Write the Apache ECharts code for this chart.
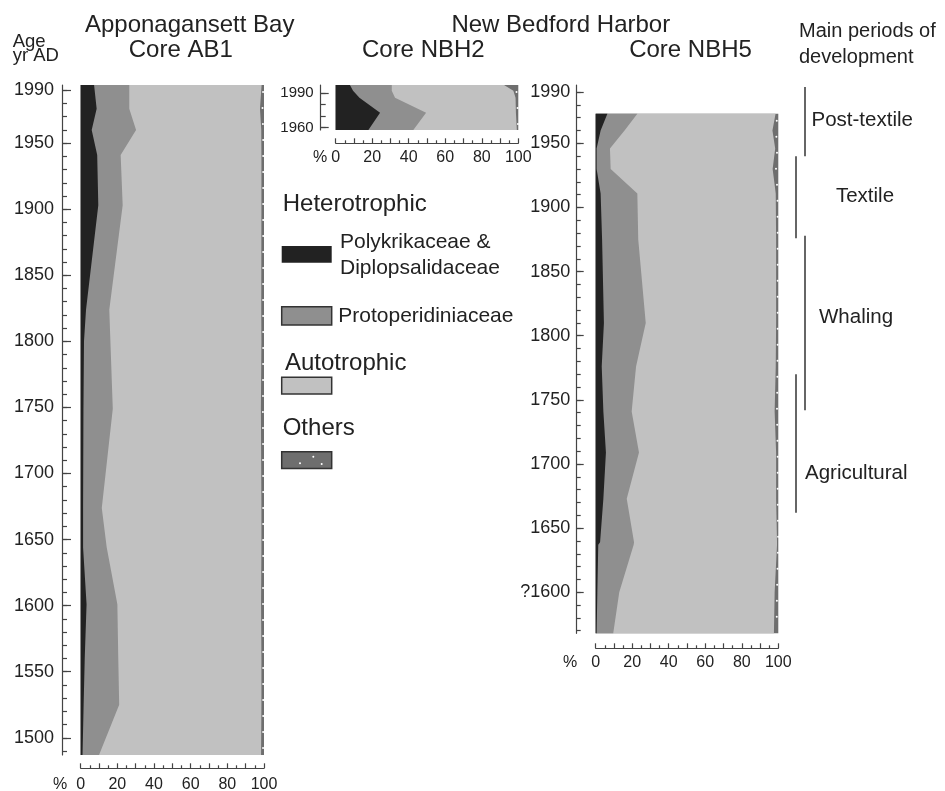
<!DOCTYPE html>
<html>
<head>
<meta charset="utf-8">
<script src="https://cdn.jsdelivr.net/npm/echarts@6/dist/echarts.min.js"></script>
<style>
  html, body { margin: 0; padding: 0; background: #fff; }
  #chart { width: 945px; height: 791px; }
</style>
</head>
<body>
<div id="chart"></div>
<script>
// ---- Dinoflagellate cyst assemblages (% of total) by age, yr AD ----
// Apponagansett Bay, core AB1
const ab1Years  = [1994, 1976, 1960, 1941, 1903, 1824, 1800, 1749, 1674, 1644, 1601, 1560, 1525, 1487];
const ab1Poly   = [7.3, 8.7, 6.0, 9.0, 9.6, 2.9, 1.8, 1.5, 1.3, 1.3, 3.2, 2.2, 1.6, 1.0];
const ab1Proto  = [19.2, 17.8, 24.2, 12.8, 13.3, 12.7, 14.4, 16.0, 10.2, 12.9, 16.8, 18.3, 19.4, 9.0];
const ab1Auto   = [72.2, 71.3, 68.3, 76.8, 75.7, 82.9, 82.4, 80.8, 87.1, 84.4, 78.4, 78.1, 77.6, 88.4];
const ab1Others = [1.3, 2.2, 1.5, 1.4, 1.4, 1.5, 1.4, 1.7, 1.4, 1.4, 1.6, 1.4, 1.4, 1.6];

// New Bedford Harbor, core NBH2
const nbh2Years  = [1997, 1992, 1986, 1973, 1958];
const nbh2Poly   = [7.8, 9.5, 13.0, 24.3, 17.9];
const nbh2Proto  = [22.9, 21.2, 19.5, 25.2, 24.6];
const nbh2Auto   = [61.5, 66.6, 66.0, 49.2, 56.7];
const nbh2Others = [7.8, 2.7, 1.5, 1.3, 0.8];

// New Bedford Harbor, core NBH5
const nbh5Years  = [1973, 1960, 1946, 1930, 1911, 1875, 1810, 1776, 1741, 1709, 1673, 1639, 1637, 1600, 1568];
const nbh5Poly   = [6.4, 2.7, 0.5, 0.5, 2.7, 3.5, 4.5, 3.3, 4.2, 5.6, 4.2, 2.4, 1.4, 0.9, 0.5];
const nbh5Proto  = [16.4, 13.1, 7.3, 7.7, 20.1, 19.8, 22.9, 18.8, 15.5, 18.1, 12.8, 18.6, 19.4, 12.0, 9.1];
const nbh5Auto   = [75.7, 81.0, 90.5, 88.7, 75.8, 75.5, 71.4, 76.5, 78.3, 75.1, 81.8, 78.3, 78.5, 85.1, 88.0];
const nbh5Others = [1.5, 3.2, 1.7, 3.1, 1.4, 1.2, 1.2, 1.4, 2.0, 1.2, 1.2, 0.7, 0.7, 2.0, 2.4];

// Axis tick labels
const ab1AgeLabels  = [1500, 1550, 1600, 1650, 1700, 1750, 1800, 1850, 1900, 1950, 1990];
const nbh2AgeLabels = [1960, 1990];
const nbh5AgeLabels = [1600, 1650, 1700, 1750, 1800, 1850, 1900, 1950, 1990];
const pctLabels     = [0, 20, 40, 60, 80, 100];

// Main periods of development (yr AD)
const periodNames    = ['Post-textile', 'Textile', 'Whaling', 'Agricultural'];
const periodStart    = [1940, 1876, 1742, 1662];
const periodEnd      = [1994, 1940, 1878, 1770];
const periodLabelAge = [1968, 1909, 1814, 1693];

// ---- styling ----
const FONT = "'Liberation Sans', Arial, Helvetica, sans-serif";
const INK = '#222';
const AXIS = '#444';
const FILLS = ['#222222', '#8f8f8f', '#c1c1c1', '#6e6e6e'];

function tickRange(from, to, step) {
  const out = [];
  for (let v = from; v <= to; v += step) out.push(v);
  return out;
}

// Two overlapping y axes per panel: one carries the line + 10-year ticks,
// the other the longer labelled ticks.
function ageAxes(gridIndex, min, max, labels, minor, o) {
  return [
    {
      gridIndex, type: 'value', min, max, position: 'left', offset: o.offset,
      axisLine: { show: true, onZero: false, lineStyle: { color: AXIS, width: 1.2 } },
      axisTick: { show: true, inside: true, length: o.minorLen, customValues: minor,
                  lineStyle: { color: AXIS, width: 1.2 } },
      axisLabel: { show: false },
      splitLine: { show: false }
    },
    {
      gridIndex, type: 'value', min, max, position: 'left', offset: o.offset,
      axisLine: { show: false, onZero: false },
      axisTick: { show: true, inside: true, length: o.majorLen, customValues: labels,
                  lineStyle: { color: AXIS, width: 1.2 } },
      axisLabel: { show: true, customValues: labels, margin: o.margin, fontSize: o.fontSize,
                   color: INK, fontFamily: FONT, formatter: o.formatter || (v => String(v)) },
      splitLine: { show: false }
    }
  ];
}

function pctAxis(gridIndex, offset, margin) {
  return {
    gridIndex, type: 'value', min: 0, max: 100, interval: 10, position: 'bottom', offset,
    axisLine: { show: true, onZero: false, lineStyle: { color: AXIS, width: 1.2 } },
    axisTick: { show: true, inside: true, length: 5, lineStyle: { color: AXIS, width: 1.2 } },
    minorTick: { show: true, splitNumber: 2, length: 3, lineStyle: { color: AXIS, width: 1.2 } },
    axisLabel: { customValues: pctLabels, margin, fontSize: 16, color: INK, fontFamily: FONT },
    splitLine: { show: false },
    minorSplitLine: { show: false }
  };
}

// Stacked percentage bands of one core, drawn as polygons from 0 to each
// cumulative boundary (widest first so the narrower ones sit on top).
function coreSeries(gridIndex, years, groups) {
  const upper = [];
  let run = years.map(() => 0);
  groups.forEach(g => {
    run = run.map((v, i) => v + g[i]);
    upper.push(run.slice());
  });
  const series = [];
  for (let k = groups.length - 1; k >= 0; k--) {
    const hi = upper[k];
    const isOthers = k === groups.length - 1;
    series.push({
      type: 'custom',
      name: 'band' + gridIndex + '_' + k,
      xAxisIndex: gridIndex,
      yAxisIndex: gridIndex * 2,
      silent: true,
      animation: false,
      data: years.map((y, i) => [hi[i], y]),
      renderItem(params, api) {
        if (params.dataIndex !== 0) return null;
        const n = years.length;
        const pts = [api.coord([0, years[0]]), api.coord([0, years[n - 1]])];
        for (let i = n - 1; i >= 0; i--) pts.push(api.coord([hi[i], years[i]]));
        const children = [{
          type: 'polygon',
          shape: { points: pts },
          style: { fill: FILLS[k], stroke: null }
        }];
        if (isOthers) {
          // speckled texture of the "Others" band
          const inner = years.map((y, i) => api.coord([upper[k - 1][i], y]));
          const top = inner[0][1], bottom = inner[n - 1][1];
          for (let py = top + 7; py < bottom - 3; py += 16) {
            let j = 0;
            while (j < n - 2 && inner[j + 1][1] < py) j++;
            const a = inner[j], b = inner[j + 1];
            const t = (py - a[1]) / ((b[1] - a[1]) || 1);
            const cx = a[0] + (b[0] - a[0]) * t;
            const rx = api.coord([100, years[j]])[0];
            children.push({
              type: 'circle',
              shape: { cx: (cx + rx) / 2 + 0.5, cy: py, r: 1 },
              style: { fill: '#ffffff' }
            });
          }
        }
        return { type: 'group', children };
      }
    });
  }
  return series;
}

const chart = echarts.init(document.getElementById('chart'), null, { renderer: 'canvas', width: 945, height: 791 });

const AB1 = { min: 1487, max: 1994 };
const NBH2 = { min: 1958, max: 1997 };
const NBH5 = { min: 1568, max: 1995.5 };

const periodLayout = [
  { lineX: 15, textX: 21.5, align: 'left' },
  { lineX: 6,  textX: 75,   align: 'center' },
  { lineX: 15, textX: 29,   align: 'left' },
  { lineX: 6,  textX: 15,   align: 'left' }
];

function txt(text, x, y, size, align) {
  return {
    type: 'text', x, y, silent: true,
    style: { text, font: size + 'px ' + FONT, fill: INK,
             textAlign: align || 'left', align: align || 'left',
             textVerticalAlign: 'middle', verticalAlign: 'middle' }
  };
}
function swatch(x, y, w, h, fill, bordered) {
  return {
    type: 'rect', shape: { x, y, width: w, height: h }, silent: true,
    style: { fill, stroke: bordered ? '#333' : fill, lineWidth: bordered ? 1.5 : 0 }
  };
}
function dot(x, y) {
  return { type: 'circle', shape: { cx: x, cy: y, r: 1 }, silent: true, style: { fill: '#fff' } };
}

const option = {
  animation: false,
  backgroundColor: '#ffffff',
  textStyle: { fontFamily: FONT },
  grid: [
    { left: 80.7,  top: 85, width: 183.3, height: 670,   outerBoundsMode: 'none', containLabel: false },
    { left: 335.7, top: 85, width: 182.6, height: 45,    outerBoundsMode: 'none', containLabel: false },
    { left: 595.7, top: 85, width: 182.6, height: 548.3, outerBoundsMode: 'none', containLabel: false },
    { left: 790,   top: 85, width: 155,   height: 548.3, outerBoundsMode: 'none', containLabel: false }
  ],
  xAxis: [
    pctAxis(0, 13.3, 8),
    pctAxis(1, 13.3, 6),
    pctAxis(2, 15, 6),
    { gridIndex: 3, type: 'value', min: 0, max: 155, show: false }
  ],
  yAxis: [
    ...ageAxes(0, AB1.min, AB1.max, ab1AgeLabels, tickRange(1490, 1990, 10),
               { offset: 18.7, minorLen: 5, majorLen: 9, margin: 8, fontSize: 18 }),
    ...ageAxes(1, NBH2.min, NBH2.max, nbh2AgeLabels, tickRange(1960, 1990, 10),
               { offset: 15, minorLen: 5, majorLen: 8, margin: 7, fontSize: 15 }),
    ...ageAxes(2, NBH5.min, NBH5.max, nbh5AgeLabels, tickRange(1570, 1990, 10),
               { offset: 19, minorLen: 4, majorLen: 7, margin: 6.5, fontSize: 18,
                 formatter: v => (v === 1600 ? '?1600' : String(v)) }),
    { gridIndex: 3, type: 'value', min: NBH5.min, max: NBH5.max, show: false }
  ],
  series: [
    ...coreSeries(0, ab1Years, [ab1Poly, ab1Proto, ab1Auto, ab1Others]),
    ...coreSeries(1, nbh2Years, [nbh2Poly, nbh2Proto, nbh2Auto, nbh2Others]),
    ...coreSeries(2, nbh5Years, [nbh5Poly, nbh5Proto, nbh5Auto, nbh5Others]),
    {
      type: 'custom',
      name: 'periods',
      xAxisIndex: 3,
      yAxisIndex: 6,
      silent: true,
      animation: false,
      data: periodNames.map((n, i) => [periodStart[i], periodEnd[i], periodLabelAge[i]]),
      renderItem(params, api) {
        const i = params.dataIndex;
        const lay = periodLayout[i];
        const x0 = params.coordSys.x;
        const yTop = api.coord([0, api.value(1)])[1];
        const yBot = api.coord([0, api.value(0)])[1];
        const yTxt = api.coord([0, api.value(2)])[1];
        return {
          type: 'group',
          children: [
            { type: 'line', shape: { x1: x0 + lay.lineX, y1: yTop, x2: x0 + lay.lineX, y2: yBot },
              style: { stroke: '#333', lineWidth: 1.5 } },
            { type: 'text', x: x0 + lay.textX, y: yTxt,
              style: { text: periodNames[i], font: '20.5px ' + FONT, fill: INK,
                       align: lay.align, textAlign: lay.align,
                       verticalAlign: 'middle', textVerticalAlign: 'middle' } }
          ]
        };
      }
    }
  ],
  graphic: [
    // headings
    txt('Age', 12.7, 41.5, 18.5),
    txt('yr AD', 12.7, 55.5, 18.5),
    txt('Apponagansett Bay', 189.7, 25.5, 24, 'center'),
    txt('Core AB1', 180.8, 50, 24, 'center'),
    txt('New Bedford Harbor', 560.8, 25.5, 24, 'center'),
    txt('Core NBH2', 423.3, 50, 24, 'center'),
    txt('Core NBH5', 690.5, 50, 24, 'center'),
    txt('Main periods of', 799, 31.7, 20),
    txt('development', 799, 57, 20),
    // percentage axis captions
    txt('%', 60, 785, 16, 'center'),
    txt('%', 320, 157.3, 16, 'center'),
    txt('%', 570, 662.7, 16, 'center'),
    // legend
    txt('Heterotrophic', 282.7, 204.5, 24),
    swatch(281.7, 246, 50, 16.7, FILLS[0], false),
    txt('Polykrikaceae &', 340, 242, 21),
    txt('Diplopsalidaceae', 340, 268, 21),
    swatch(281.7, 306.7, 50, 18.3, FILLS[1], true),
    txt('Protoperidiniaceae', 338.3, 316.7, 21),
    txt('Autotrophic', 285, 363, 24),
    swatch(281.7, 377.3, 50, 16.7, FILLS[2], true),
    txt('Others', 282.7, 428, 24),
    swatch(281.7, 451.7, 50, 16.7, FILLS[3], true),
    dot(300, 463.3), dot(313.3, 456.7), dot(321.7, 464)
  ]
};

chart.setOption(option);
</script>
</body>
</html>
